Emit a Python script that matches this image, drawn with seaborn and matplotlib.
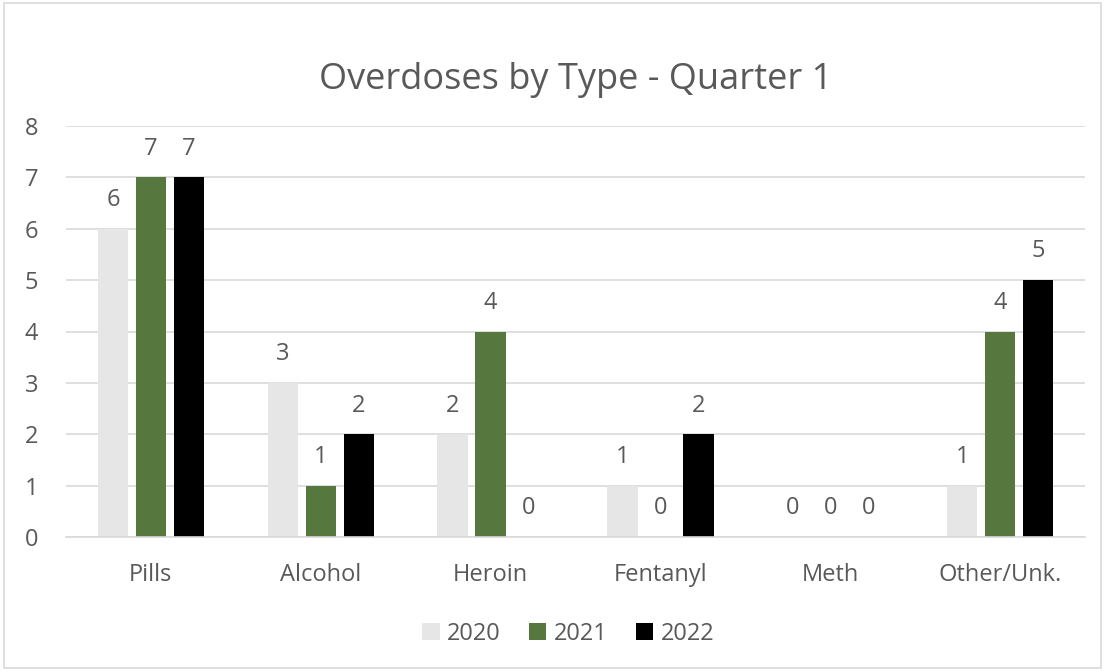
import matplotlib
matplotlib.use("Agg")
import matplotlib.pyplot as plt
import seaborn as sns
import pandas as pd
from matplotlib.patches import Rectangle

categories = ["Pills", "Alcohol", "Heroin", "Fentanyl", "Meth", "Other/Unk."]
years = ["2020", "2021", "2022"]
v2020 = [6, 3, 2, 1, 0, 1]
v2021 = [7, 1, 4, 0, 0, 4]
v2022 = [7, 2, 0, 2, 0, 5]
colors = ["#E7E6E6", "#548235", "#000000"]

rows = []
for y, vals in zip(years, [v2020, v2021, v2022]):
    for c, v in zip(categories, vals):
        rows.append({"Type": c, "Year": y, "Count": v})
df = pd.DataFrame(rows)

sns.set_theme(style="white")
plt.rcParams['font.family'] = ['Open Sans', 'DejaVu Sans']
text_color = "#595959"
fs = 17

fig = plt.figure(figsize=(11.05, 6.71), dpi=100)
ax = fig.add_axes([66/1105, 1-537/671, (1085-66)/1105, (537-126)/671])

sns.barplot(data=df, x="Type", y="Count", hue="Year", palette=colors,
            width=0.67, gap=0.2, ax=ax, order=categories, hue_order=years,
            legend=True, linewidth=0)

ax.set_ylim(0, 8)
ax.set_xlim(-0.5, 5.5)
ax.set_yticks(range(0, 9))
ax.yaxis.grid(True, color="#D9D9D9", linewidth=1.2)
ax.set_axisbelow(True)
for s in ["top", "right", "left"]:
    ax.spines[s].set_visible(False)
ax.spines["bottom"].set_color("#D9D9D9")
ax.spines["bottom"].set_linewidth(1.2)
ax.tick_params(axis="both", length=0, labelsize=fs, colors=text_color)
ax.tick_params(axis="y", pad=20)
ax.tick_params(axis="x", pad=19)
ax.set_xlabel("")
ax.set_ylabel("")

for cont in ax.containers:
    ax.bar_label(cont, labels=[f"{int(b.get_height())}" for b in cont],
                 padding=12, fontsize=fs, color=text_color)

ax.set_title("Overdoses by Type - Quarter 1", fontsize=26, color=text_color, pad=27)

handles, labels = ax.get_legend_handles_labels()
ax.legend(handles, labels, loc="center", bbox_to_anchor=(568/1105, (671-634)/671),
          bbox_transform=fig.transFigure, ncol=3, frameon=False,
          fontsize=fs, labelcolor=text_color, handlelength=0.75, handleheight=0.75,
          handletextpad=0.3, columnspacing=1.2)

fig.patches.append(Rectangle((0.004, 0.004), 0.992, 0.992, transform=fig.transFigure,
                             fill=False, edgecolor="#D9D9D9", linewidth=1.2))

fig.savefig("out.png", dpi=100, facecolor="white")
